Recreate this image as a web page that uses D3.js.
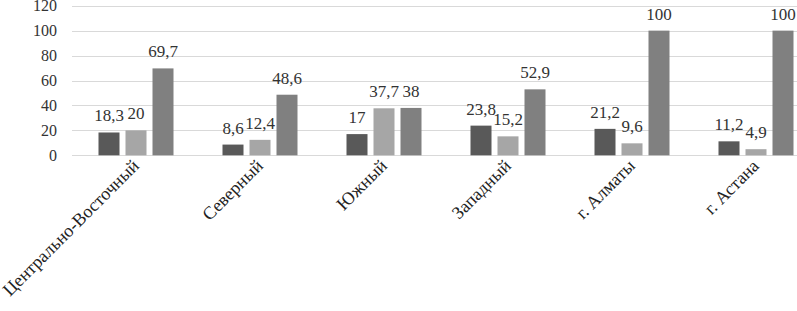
<!DOCTYPE html>
<html>
<head>
<meta charset="utf-8">
<script src="https://cdn.jsdelivr.net/npm/d3@7"></script>
</head>
<body style="margin:0">
<svg id="chart" width="797" height="311"></svg>
<script>
// ---------------- Данные ----------------
const categories = ["Центрально-Восточный", "Северный", "Южный", "Западный", "г. Алматы", "г. Астана"];
const series1 = [18.3, 8.6, 17, 23.8, 21.2, 11.2];
const series2 = [20, 12.4, 37.7, 15.2, 9.6, 4.9];
const series3 = [69.7, 48.6, 38, 52.9, 100, 100];
const yTicks = [0, 20, 40, 60, 80, 100, 120];

const seriesList = [series1, series2, series3];
const colors = ["#595959", "#a6a6a6", "#808080"];

const svg = d3.select("#chart");

// область графика (правый край обрезан, как в оригинале)
const x0 = 74, bandW = 124, yBottom = 155.3, yTop = 5.7;

const x = d3.scaleBand()
  .domain(categories)
  .range([x0, x0 + bandW * categories.length]);

const y = d3.scaleLinear().domain([0, 120]).range([yBottom, yTop]);

const barW = 21, barStep = 27;

// Сетка
svg.append("g")
  .selectAll("line")
  .data(yTicks)
  .enter()
  .append("line")
  .attr("x1", 72)
  .attr("x2", 797)
  .attr("y1", d => Math.round(y(d)) + 0.5)
  .attr("y2", d => Math.round(y(d)) + 0.5)
  .attr("stroke", "#d9d9d9")
  .attr("stroke-width", 1);

// Подписи оси Y
svg.selectAll("text.ytick")
  .data(yTicks)
  .enter()
  .append("text")
  .attr("class", "ytick")
  .attr("x", 57)
  .attr("y", d => y(d) + 5.5)
  .attr("text-anchor", "end")
  .style("font-family", d => '"Liberation Serif"')
  .attr("font-size", 16)
  .attr("fill", "#333")
  .text(d => d);

// Столбцы
seriesList.forEach((vals, s) => {
  svg.append("g")
    .selectAll("rect")
    .data(categories)
    .enter()
    .append("rect")
    .attr("x", d => x(d) + x.bandwidth() / 2 + (s - 1) * barStep - barW / 2)
    .attr("y", (d, i) => y(vals[i]))
    .attr("width", barW)
    .attr("height", (d, i) => y(0) - y(vals[i]))
    .attr("fill", colors[s]);

  svg.selectAll("text.val" + s)
    .data(categories)
    .enter()
    .append("text")
    .attr("class", "val" + s)
    .attr("x", d => x(d) + x.bandwidth() / 2 + (s - 1) * barStep)
    .attr("y", (d, i) => y(vals[i]) - 11)
    .attr("text-anchor", "middle")
    .style("font-family", d => '"Liberation Serif"')
    .attr("font-size", 17)
    .attr("fill", "#333")
    .text((d, i) => String(vals[i]).replace(".", ","));
});

// Подписи категорий (повёрнутые)
svg.selectAll("text.cat")
  .data(categories)
  .enter()
  .append("text")
  .attr("class", "cat")
  .attr("transform", d => `translate(${x(d) + x.bandwidth() / 2 + 4},${167}) rotate(-45)`)
  .attr("text-anchor", "end")
  .style("font-family", d => '"Liberation Serif"')
  .attr("font-size", 18)
  .attr("fill", "#222")
  .text(d => d);
</script>
</body>
</html>
